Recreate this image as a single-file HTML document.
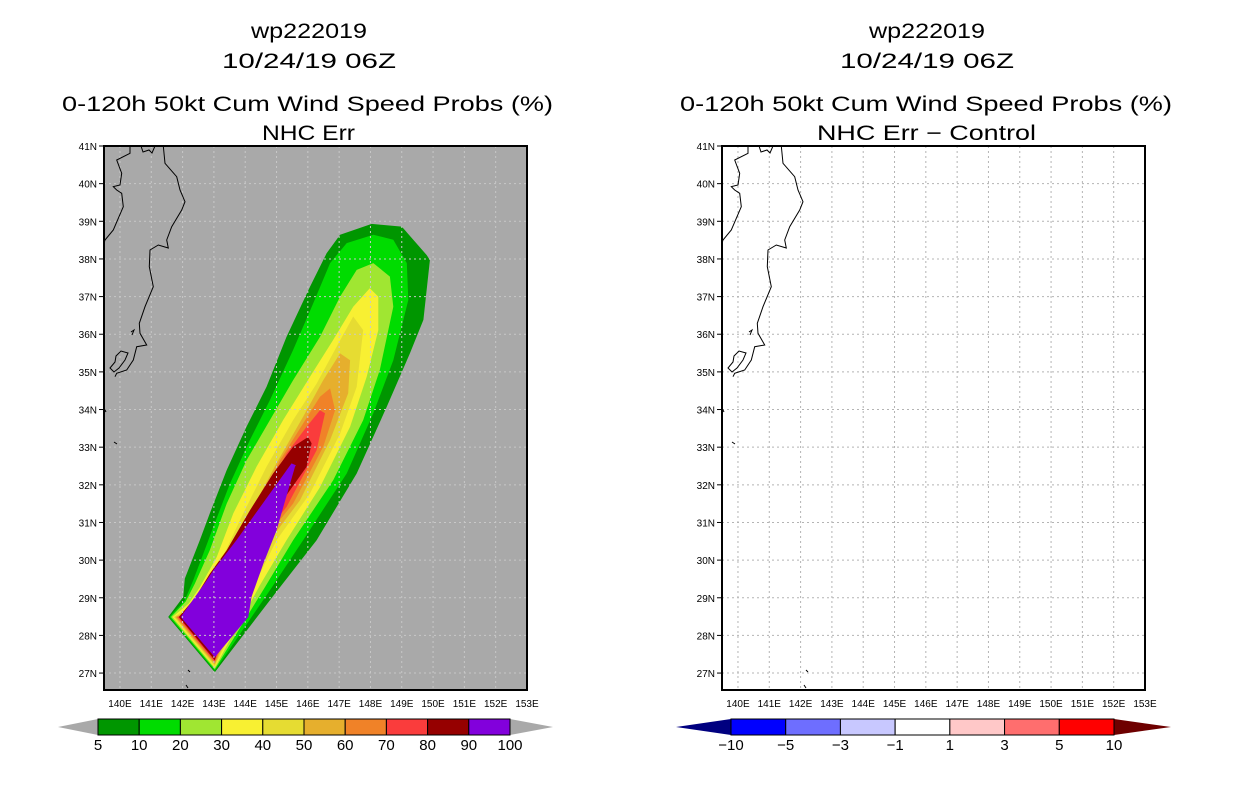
<!DOCTYPE html>
<html><head><meta charset="utf-8"><style>
body{margin:0;background:#fff;width:1236px;height:800px;overflow:hidden;font-family:"Liberation Sans",sans-serif;}
svg text{font-family:"Liberation Sans",sans-serif;}
</style></head><body>
<svg id="root" width="1236" height="800" xmlns="http://www.w3.org/2000/svg"></svg>
<script>
// ---- data ----
const lonTicks = [140,141,142,143,144,145,146,147,148,149,150,151,152,153];
const latTicks = [27,28,29,30,31,32,33,34,35,36,37,38,39,40,41];
const probLevels = ["5","10","20","30","40","50","60","70","80","90","100"];
const probColors = ["#009600","#00dc00","#a0e632","#f8f032","#e6dc32","#e6af2d","#f08228","#fa3c3c","#960000","#8200dc"];
const diffLevels = ["-10","-5","-3","-1","1","3","5","10"];
const diffColors = ["#0000ff","#6e6eff","#c8c8ff","#ffffff","#ffc8c8","#ff6e6e","#ff0000"];
const c5 = [[141.54,28.49],[143.03,27.02],[144.95,29.11],[146.28,30.53],[147.56,32.30],[148.52,34.07],[149.26,35.49],[149.69,36.38],[149.90,37.97],[149.8,38.1],[149.0,38.86],[148.04,38.93],[147.03,38.64],[146.6,38.15],[146.07,37.26],[145.32,35.93],[144.68,34.6],[144.04,33.54],[143.41,32.39],[142.87,31.24],[142.55,30.53],[142.07,29.51],[142.02,29.02]];
const c10 = [[141.58,28.49],[143.03,27.06],[144.79,29.2],[145.85,30.53],[147.24,32.3],[148.09,33.9],[148.73,35.31],[149.21,36.91],[149.16,37.89],[148.73,38.51],[148.09,38.64],[147.24,38.42],[146.71,37.89],[146.17,36.82],[145.53,35.58],[144.79,34.25],[144.15,33.19],[143.51,32.03],[142.98,30.88],[142.66,30.17],[142.34,29.46],[142.07,28.93]];
const c20 = [[141.63,28.49],[143.03,27.1],[144.63,29.28],[145.53,30.53],[146.81,32.12],[147.77,33.72],[148.3,35.05],[148.73,36.73],[148.62,37.53],[148.09,37.89],[147.56,37.71],[147.03,37.0],[146.39,35.93],[145.53,34.78],[144.79,33.72],[144.04,32.65],[143.41,31.5],[142.87,30.26],[142.39,29.37],[142.1,28.9]];
const c30 = [[141.68,28.49],[143.03,27.14],[144.47,29.33],[145.32,30.53],[146.39,31.94],[147.35,33.54],[147.88,34.87],[148.25,36.11],[148.25,37.0],[147.98,37.22],[147.45,36.73],[146.81,35.85],[146.07,34.87],[145.21,33.72],[144.36,32.48],[143.62,31.24],[143.09,30.08],[142.55,29.28],[142.2,28.85]];
const c40 = [[141.72,28.49],[143.03,27.18],[144.31,29.37],[145.0,30.53],[146.07,31.77],[147.03,33.36],[147.56,34.6],[147.77,36.11],[147.45,36.47],[146.92,35.67],[146.28,34.69],[145.53,33.72],[144.68,32.48],[143.83,31.06],[143.19,29.91],[142.66,29.2],[142.3,28.8]];
const c50 = [[141.76,28.49],[143.03,27.22],[144.2,29.42],[144.79,30.53],[145.75,31.59],[146.71,33.19],[147.29,34.43],[147.35,35.31],[147.03,35.49],[146.49,34.78],[145.85,33.81],[145.0,32.57],[144.15,31.24],[143.41,29.91],[142.82,29.15],[142.4,28.75]];
const c60 = [[141.8,28.49],[143.03,27.26],[144.1,29.46],[144.58,30.53],[145.53,31.5],[146.49,33.01],[146.87,33.98],[146.71,34.56],[146.39,34.34],[145.85,33.63],[145.11,32.65],[144.36,31.41],[143.62,30.0],[142.98,29.2],[142.5,28.7]];
const c70 = [[141.84,28.49],[143.03,27.3],[143.99,29.51],[144.47,30.53],[145.32,31.41],[146.28,32.92],[146.55,33.9],[146.39,33.98],[145.96,33.54],[145.32,32.83],[144.58,31.68],[143.83,30.26],[143.14,29.28],[142.55,28.6]];
const c80 = [[141.88,28.49],[143.03,27.34],[143.83,29.6],[144.36,30.53],[145.05,31.41],[145.96,32.48],[146.12,33.1],[146.01,33.27],[145.53,33.01],[144.89,32.3],[144.15,31.32],[143.41,30.26],[142.87,29.64],[142.4,29.0]];
const c90 = [[141.94,28.49],[143.03,27.42],[144.1,28.49],[144.2,29.02],[144.58,29.91],[145.0,30.79],[145.59,32.48],[145.62,32.52],[145.48,32.57],[144.79,31.77],[143.72,30.53],[142.98,29.73],[142.77,29.46]];
const contours = [c5,c10,c20,c30,c40,c50,c60,c70,c80,c90];

// ---- helpers ----
const NS="http://www.w3.org/2000/svg";
const root=document.getElementById('root');
function mk(tag,attrs,parent){const e=document.createElementNS(NS,tag);for(const k in attrs)e.setAttribute(k,attrs[k]);(parent||root).appendChild(e);return e;}
const LON0=139.49, LON1=153, LAT0=26.55, LAT1=41.0, W=423, H=544;
function makeMap(ox, oy, gray, gridColor, titles, probs){
  const g=mk('g',{transform:`translate(${ox},${oy})`});
  
  
  const X=lon=>(lon-LON0)/(LON1-LON0)*W, Y=lat=>(LAT1-lat)/(LAT1-LAT0)*H;
  const bg=mk('rect',{x:0,y:0,width:W,height:H,fill:gray},g);
  
  
  if(probs){
    contours.forEach((c,i)=>{
      const p=mk('polygon',{points:c.map(q=>X(q[0]).toFixed(1)+','+Y(q[1]).toFixed(1)).join(' '),fill:probColors[i]},g);
      
      
    });
  }
  lonTicks.forEach(l=>{ if(l<153){const ln=mk('line',{x1:X(l),x2:X(l),y1:0,y2:H,stroke:gridColor,'stroke-width':1,'stroke-dasharray':'2,3'},g);
    }});
  latTicks.forEach(l=>{ if(l<41){const ln=mk('line',{x1:0,x2:W,y1:Y(l),y2:Y(l),stroke:gridColor,'stroke-width':1,'stroke-dasharray':'2,3'},g);
    }});
  const coast=mk('path',{d:"M59.3,0 L61,17.3 L72.7,30.7 L76,44 L81,55.7 L77.7,64 L67.7,80.7 L62.7,94 L64.3,102 L54.3,99 L46,104 L45.3,120.7 L49.3,140.7 L41,160.7 L35.3,177.3 L36,187.3 L42.7,199 L32.7,200.7 L29.3,214 L22.7,224 L12.7,227.3 L11,230.7 M26,0 L26,7.3 L12.7,14 L17.7,27.3 L16,39 L9.3,40.7 L12.7,44 L17.7,47.3 L19.3,60.7 L9.3,84 L1,94 L0,97.3 M37,0 L39,6 L45,4 L48,7 L51,0 M12,210 L17,205 L24,207 L21,214 L15,222 L10,226 L6,222 L11,216 Z M0,262 L2,266 M27,186 L30,184 L28,189 M10,296 L13,298 M84,524 L86,526 M82,539 L84,542",fill:'none',stroke:'#000','stroke-width':1},g);
  
  const fr=mk('rect',{x:0,y:0,width:W,height:H,fill:'none',stroke:'#000','stroke-width':2},g);
  
  lonTicks.forEach(l=>{const t=mk('text',{x:X(l),y:H+17,'font-size':10,'text-anchor':'middle'},g);t.textContent=l+'E';
    });
  latTicks.forEach(l=>{const t=mk('text',{x:-7,y:Y(l)+4,'font-size':10,'text-anchor':'end'},g);t.textContent=l+'N';
    
    const tk=mk('line',{x1:-5,x2:0,y1:Y(l),y2:Y(l),stroke:'#000'},g);
    });
  titles.forEach(([s,x0,x1,yy])=>{
    const t=mk('text',{x:x0-ox,y:yy-oy,'font-size':21,textLength:x1-x0,lengthAdjust:'spacingAndGlyphs'},g);t.textContent=s;
    });
}
makeMap(104,146,'#a9a9a9','#c8c8c8',[["wp222019",251,367,38],["10/24/19 06Z",222,396,68],["0-120h 50kt Cum Wind Speed Probs (%)",62,553,111],["NHC Err",262,355,140]],true);
makeMap(722,146,'#ffffff','#b4b4b4',[["wp222019",869,985,38],["10/24/19 06Z",840,1014,68],["0-120h 50kt Cum Wind Speed Probs (%)",680,1172,111],["NHC Err \u2212 Control",817,1036,140]],false);

function colorbar(x0,x1,y,h,colors,labels,lc,rc,lx,rx){
  const g=mk('g',{});
  
  const n=colors.length,w=(x1-x0)/n;
  const lt=mk('polygon',{points:`${lx},${y+h/2} ${x0},${y} ${x0},${y+h}`,fill:lc},g);
  
  const rt=mk('polygon',{points:`${rx},${y+h/2} ${x1},${y} ${x1},${y+h}`,fill:rc},g);
  
  colors.forEach((c,i)=>{const r=mk('rect',{x:x0+i*w,y:y,width:w,height:h,fill:c,stroke:'#000','stroke-width':1},g);
    });
  labels.forEach((s,i)=>{const t=mk('text',{x:x0+i*w,y:y+h+15,'font-size':15,'text-anchor':'middle'},g);t.textContent=s.replace('-','\u2212');
    });
}
colorbar(98,510,719,16,probColors,probLevels,'#a9a9a9','#a9a9a9',58,553);
colorbar(731,1114,719,16,diffColors,diffLevels,'#000080','#6e0000',676,1171);
</script>
</body></html>
